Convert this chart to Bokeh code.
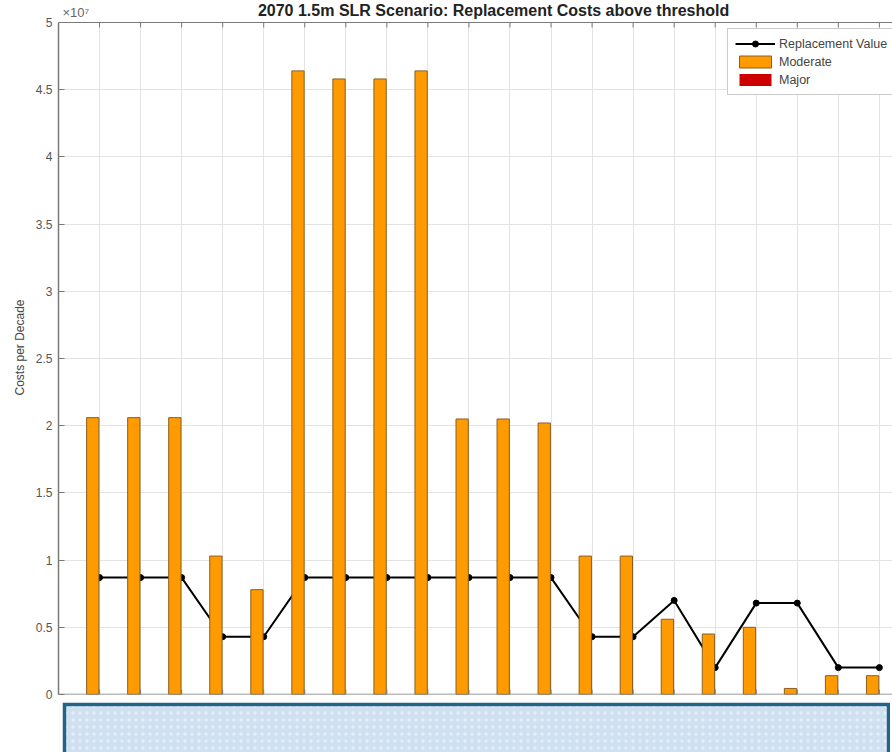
from bokeh.plotting import figure
from bokeh.models import (ColumnDataSource, FixedTicker, Label, Legend, LegendItem,
                          CustomJSTickFormatter, Range1d, Spacer, Span, BoxAnnotation)
from bokeh.layouts import column, row
from bokeh.transform import dodge
from bokeh.embed import file_html
from bokeh.resources import INLINE

# ---- data (values in units of 1e7) ----
positions = list(range(1, 21))
replacement_value = [0.87, 0.87, 0.87, 0.43, 0.43, 0.87, 0.87, 0.87, 0.87, 0.87,
                     0.87, 0.87, 0.43, 0.43, 0.70, 0.20, 0.68, 0.68, 0.20, 0.20]
moderate = [2.06, 2.06, 2.06, 1.03, 0.78, 4.64, 4.58, 4.58, 4.64, 2.05,
            2.05, 2.02, 1.03, 1.03, 0.56, 0.45, 0.50, 0.045, 0.14, 0.14]
major = [0.0] * 20
y_ticks = [0, 0.5, 1, 1.5, 2, 2.5, 3, 3.5, 4, 4.5, 5]
y_min = 0
y_max = 5
title_text = "2070 1.5m SLR Scenario: Replacement Costs above threshold"
y_label = "Costs per Decade"
exponent_text = "\u00d710\u2077"

src = ColumnDataSource(dict(x=positions, repl=replacement_value,
                            moderate=moderate, major=major))

FONT = "Liberation Sans"
AX = "#7a7a7a"
GRID = "#e3e3e3"

FRAME_H = 694           # px from page top to the zero line
TOP_PAD = 22            # px between page top and the y = 5 line
px_per_unit = (FRAME_H - TOP_PAD) / (y_max - y_min)
y_end = y_max + TOP_PAD / px_per_unit

p = figure(width=892, height=702, output_backend="svg", toolbar_location=None,
           x_range=Range1d(0, 20.32), y_range=Range1d(y_min, y_end),
           min_border_left=58, min_border_right=0, min_border_top=0,
           min_border_bottom=8)
p.outline_line_color = None
p.background_fill_color = "white"
p.border_fill_color = "white"

# bottom axis: labels are hidden by the overlay box in the reference
p.xaxis.visible = False

# left axis
p.yaxis.ticker = FixedTicker(ticks=y_ticks)
p.yaxis.bounds = (y_min, y_max)
p.yaxis.formatter = CustomJSTickFormatter(code="return String(Math.round(tick*10)/10);")
p.yaxis.major_tick_in = 6
p.yaxis.major_tick_out = 0
p.yaxis.minor_tick_line_color = None
p.yaxis.axis_line_color = AX
p.yaxis.axis_line_width = 1.5
p.yaxis.major_tick_line_color = AX
p.yaxis.major_label_text_color = "#555555"
p.yaxis.major_label_text_font = FONT
p.yaxis.major_label_text_font_size = "12px"
p.yaxis.major_label_standoff = 6
p.yaxis.axis_label = y_label
p.yaxis.axis_label_text_font = FONT
p.yaxis.axis_label_text_font_size = "12px"
p.yaxis.axis_label_text_font_style = "normal"
p.yaxis.axis_label_text_color = "#444444"
p.yaxis.axis_label_standoff = 6

# grid
p.xgrid.ticker = FixedTicker(ticks=positions)
p.ygrid.ticker = FixedTicker(ticks=y_ticks)
p.xgrid.grid_line_color = GRID
p.ygrid.grid_line_color = GRID

# replacement value line (drawn behind bars)
r_line = p.line("x", "repl", source=src, line_color="black", line_width=2)
r_pts = p.scatter("x", "repl", source=src, size=6, fill_color="black",
                  line_color="black", marker="circle")

# bars
r_mod = p.vbar(x=dodge("x", -0.165, range=p.x_range), top="moderate", bottom=0,
               width=0.3, source=src, fill_color="#FF9A00", line_color="#8a6020",
               line_width=1)
r_maj = p.vbar(x=dodge("x", 0.165, range=p.x_range), top="major", bottom=0,
               width=0.3, source=src, fill_color="#CC0000", line_color=None)

# inward ticks on the top and bottom edges of the axes box
tick_len = 5 / px_per_unit
n = len(positions)
p.segment(x0=positions, x1=positions, y0=[y_max] * n,
          y1=[y_max - tick_len] * n, line_color=AX, line_width=1)
p.segment(x0=positions, x1=positions, y0=[y_min] * n,
          y1=[y_min + tick_len] * n, line_color=AX, line_width=1)

# mask the area above the axes box, then the box edges
p.add_layout(BoxAnnotation(bottom=y_max, fill_color="white", fill_alpha=1,
                           line_color=None))
p.add_layout(Span(location=y_max, dimension="width", line_color=AX, line_width=1))
p.add_layout(Span(location=y_min, dimension="width", line_color=AX, line_width=1.5))

legend = Legend(items=[
    LegendItem(label="Replacement Value", renderers=[r_line, r_pts]),
    LegendItem(label="Moderate", renderers=[r_mod]),
    LegendItem(label="Major", renderers=[r_maj]),
], location=(669, 599))
legend.glyph_width = 40
legend.glyph_height = 15
legend.label_height = 15
legend.spacing = 3
legend.padding = 7
legend.margin = 0
legend.label_standoff = 4
legend.label_text_font = FONT
legend.label_text_font_size = "12.5px"
legend.label_text_color = "#444444"
legend.border_line_color = "#999999"
legend.background_fill_color = "white"
legend.background_fill_alpha = 1
p.add_layout(legend)

# title and exponent (cut at the top edge, as in the reference)
p.add_layout(Label(x=10.6, y=y_max, y_offset=4, text=title_text, text_align="center",
                   text_baseline="bottom", text_font=FONT, text_font_size="16px",
                   text_font_style="bold", text_color="#222222"))
p.add_layout(Label(x=0, y=y_max, x_offset=4, y_offset=3, text=exponent_text,
                   text_align="left", text_baseline="bottom", text_font=FONT,
                   text_font_size="13px", text_color="#666666"))

# overlay box at the bottom
box = figure(width=828, height=50, output_backend="svg", toolbar_location=None,
             x_range=Range1d(0, 1), y_range=Range1d(0, 1),
             min_border_left=4, min_border_right=4, min_border_top=4,
             min_border_bottom=0)
box.axis.visible = False
box.grid.visible = False
box.outline_line_color = None
box.background_fill_color = "#cfe0f1"
box.border_fill_color = "#226386"
box.quad(left=[0], right=[1], bottom=[0], top=[1], fill_color=None, line_color=None,
         hatch_pattern="dot", hatch_color="white", hatch_alpha=0.45, hatch_scale=7)

layout = column(p, row(Spacer(width=62), box))

open("out.html", "w").write(file_html(layout, INLINE))
